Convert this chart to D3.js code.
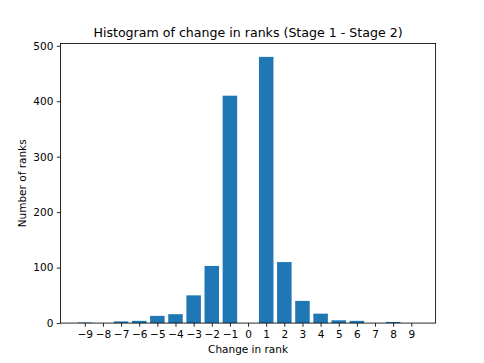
<!DOCTYPE html>
<html><head><meta charset="utf-8">
<script src="https://cdn.jsdelivr.net/npm/d3@7"></script>
<style>body{margin:0;background:#fff}svg{display:block}text{font-family:"DejaVu Sans",sans-serif;fill:#000}</style>
</head><body>
<script>
const categories = [-9,-8,-7,-6,-5,-4,-3,-2,-1,0,1,2,3,4,5,6,7,8,9];
const counts =     [ 1, 0, 3, 4,13,16,50,103,410,0,480,110,40,17,5,4,0,2,0];
const yTicks = [0,100,200,300,400,500];
const title = "Histogram of change in ranks (Stage 1 - Stage 2)";
const xLabel = "Change in rank";
const yLabel = "Number of ranks";

const W=484,H=363;
const L=60.5,R=435.6,T=43.56,B=323.07;
const svg=d3.select("body").append("svg").attr("width",W).attr("height",H);
const barW=0.8;
const xmin=d3.min(categories)-barW/2, xmax=d3.max(categories)+barW/2, xm=(xmax-xmin)*0.05;
const x=d3.scaleLinear().domain([xmin-xm,xmax+xm]).range([L,R]);
const ymax=d3.max(counts)*1.05;
const y=d3.scaleLinear().domain([0,ymax]).range([B,T]);

svg.append("g").selectAll("rect").data(categories).join("rect")
 .attr("x",d=>x(d-barW/2)).attr("width",d=>x(d+barW/2)-x(d-barW/2))
 .attr("y",(d,i)=>y(counts[i])).attr("height",(d,i)=>B-y(counts[i]))
 .attr("fill","#1f77b4");

const fmt=d3.format("d");
const xa=svg.append("g").attr("transform",`translate(0,${B})`)
 .call(d3.axisBottom(x).tickValues(categories).tickFormat(d=>fmt(d)).tickSize(3.7).tickPadding(3.5));
const ya=svg.append("g").attr("transform",`translate(${L},0)`)
 .call(d3.axisLeft(y).tickValues(yTicks).tickSize(3.7).tickPadding(3.5));
[xa,ya].forEach(g=>{g.select(".domain").remove();g.selectAll("line").attr("stroke","#000").attr("stroke-width",0.84);
 g.selectAll("text").attr("font-size","10.5px").attr("font-family","DejaVu Sans").attr("fill","#000");});

svg.append("rect").attr("x",L).attr("y",T).attr("width",R-L).attr("height",B-T)
 .attr("fill","none").attr("stroke","#000").attr("stroke-width",0.84);

svg.append("text").attr("x",(L+R)/2).attr("y",T-6.6).attr("text-anchor","middle").attr("font-size","12.6px").text(title);
svg.append("text").attr("x",(L+R)/2).attr("y",353).attr("text-anchor","middle").attr("font-size","10.5px").text(xLabel);
svg.append("text").attr("transform",`translate(26,${(T+B)/2}) rotate(-90)`).attr("text-anchor","middle").attr("font-size","10.5px").text(yLabel);
</script>
</body></html>
